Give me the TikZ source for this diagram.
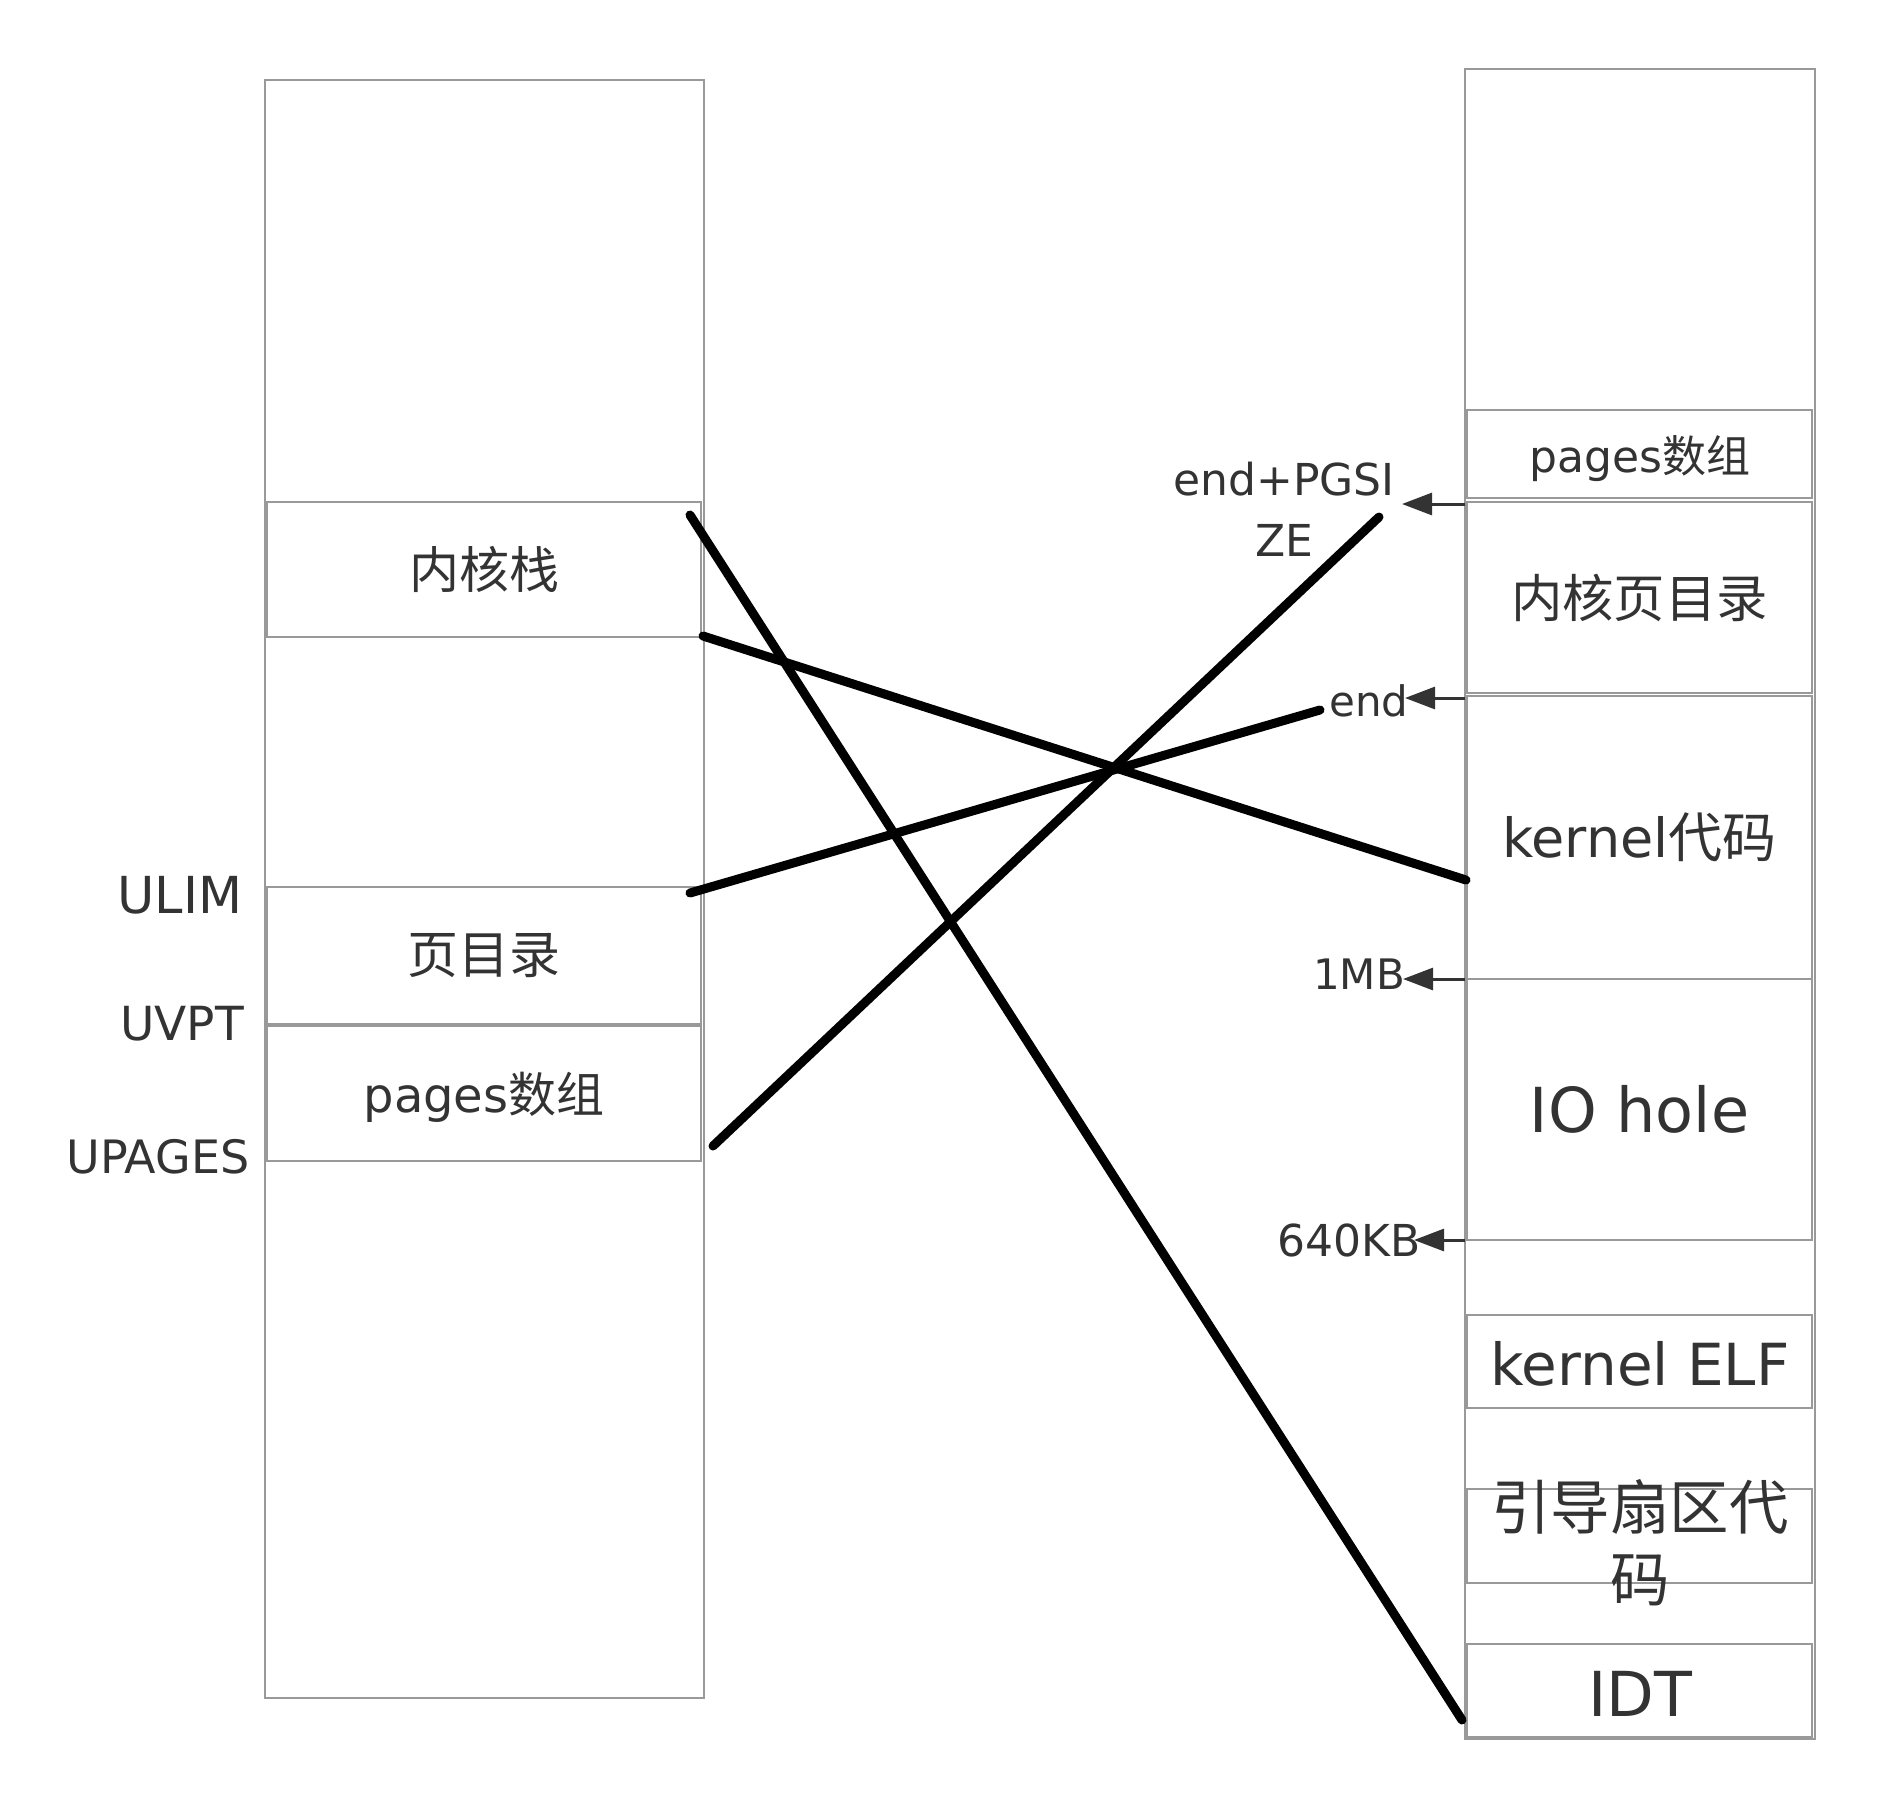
\documentclass[tikz,border=0pt]{standalone}
\usepackage{fontspec}
\setmainfont{DejaVu Sans}
\newfontfamily\cjk{Noto Sans CJK SC}
\usetikzlibrary{arrows.meta}
\definecolor{boxgray}{HTML}{999999}
\definecolor{txt}{HTML}{333333}
\newcommand{\fs}[2]{\fontsize{#1}{#2}\selectfont}
\begin{document}
\begin{tikzpicture}[x=0.5pt,y=-0.5pt,
  box/.style={draw=boxgray, line width=1pt, inner sep=0pt, text=txt},
  lbl/.style={text=txt, inner sep=0pt},
  ptr/.style={draw=txt, line width=1.5pt, -{Triangle[length=15pt,width=11pt]}},
  mapline/.style={draw=black, line width=4.5pt, line cap=round}]
\useasboundingbox (0,0) rectangle (1878,1809);

% left column
\node[box, minimum width=219.5pt, minimum height=809pt] (lcol) at (484.5,889) {};
\node[box, minimum width=217pt, minimum height=67.5pt, font=\fs{25pt}{30pt}] (kstack) at (484,569.5) {\cjk 内核栈};
\node[box, minimum width=217pt, minimum height=68.5pt, font=\fs{25.5pt}{30pt}] (pdir) at (484,955.5) {\cjk 页目录};
\node[box, minimum width=217pt, minimum height=67.5pt] (lpages) at (484,1093.5) {};
\node[lbl, font=\fs{24pt}{30pt}] (lpageslbl) at (484,1097) {pages{\cjk 数组}};

\node[lbl, font=\fs{25.5pt}{30pt}] (ulim) at (180,895) {ULIM};
\node[lbl, font=\fs{23.5pt}{28pt}] (uvpt) at (182,1024) {UVPT};
\node[lbl, font=\fs{23pt}{28pt}] (upages) at (158,1157) {UPAGES};

% right column
\node[box, minimum width=175pt, minimum height=835pt] (rcol) at (1640,904) {};
\node[box, minimum width=172.5pt, minimum height=44pt] (rpages) at (1639.5,454) {};
\node[lbl, font=\fs{22pt}{26pt}] (rpageslbl) at (1640,459) {pages{\cjk 数组}};
\node[box, minimum width=172.5pt, minimum height=95.5pt, font=\fs{25.7pt}{30pt}] (kpd) at (1639.5,597.5) {\cjk 内核页目录};
\node[box, minimum width=172.5pt, minimum height=141.5pt, font=\fs{27pt}{32pt}] (kcode) at (1639.5,837.5) {kernel{\cjk 代码}};
\node[box, minimum width=172.5pt, minimum height=130.5pt, font=\fs{31pt}{36pt}] (iohole) at (1639.5,1109.5) {IO hole};
\node[box, minimum width=172.5pt, minimum height=46.5pt] (kelf) at (1639.5,1361.5) {};
\node[lbl, font=\fs{29pt}{34pt}] (kelflbl) at (1640,1364) {kernel ELF};
\node[box, minimum width=172.5pt, minimum height=47pt] (boot) at (1639.5,1536) {};
\node[lbl, align=center, font=\fs{29.7pt}{36pt}] (bootlbl) at (1640,1543) {\cjk 引导扇区代\\\cjk 码};
\node[box, minimum width=172.5pt, minimum height=46.5pt] (idt) at (1639.5,1690.5) {};
\node[lbl, font=\fs{31pt}{36pt}] (idtlbl) at (1640,1694) {IDT};

% mapping lines
\coordinate (m1a) at (690,515);  \coordinate (m1b) at (1462,1720);
\coordinate (m2a) at (703,636);  \coordinate (m2b) at (1466,880);
\coordinate (m3a) at (690,893);  \coordinate (m3b) at (1320,710);
\coordinate (m4a) at (713,1146); \coordinate (m4b) at (1379,517);
\draw[mapline] (m1a) -- (m1b);
\draw[mapline] (m2a) -- (m2b);
\draw[mapline] (m3a) -- (m3b);
\draw[mapline] (m4a) -- (m4b);

% address labels with arrows
\coordinate (a1s) at (1465,504);  \coordinate (a1t) at (1402,504);
\coordinate (a2s) at (1465,698);  \coordinate (a2t) at (1405,698);
\coordinate (a3s) at (1465,979);  \coordinate (a3t) at (1403,979);
\coordinate (a4s) at (1465,1240); \coordinate (a4t) at (1414,1240);
\draw[ptr] (a1s) -- (a1t);
\draw[ptr] (a2s) -- (a2t);
\draw[ptr] (a3s) -- (a3t);
\draw[ptr] (a4s) -- (a4t);

\node[lbl, align=center, font=\fs{22pt}{30.5pt}] (pgsize) at (1284,509) {end+PGSI\\ZE};
\node[lbl, font=\fs{21pt}{26pt}] (endl) at (1369,701) {end};
\node[lbl, font=\fs{21pt}{26pt}] (mb) at (1359,974) {1MB};
\node[lbl, font=\fs{22pt}{26pt}] (kb) at (1349,1240) {640KB};
\end{tikzpicture}
\end{document}
